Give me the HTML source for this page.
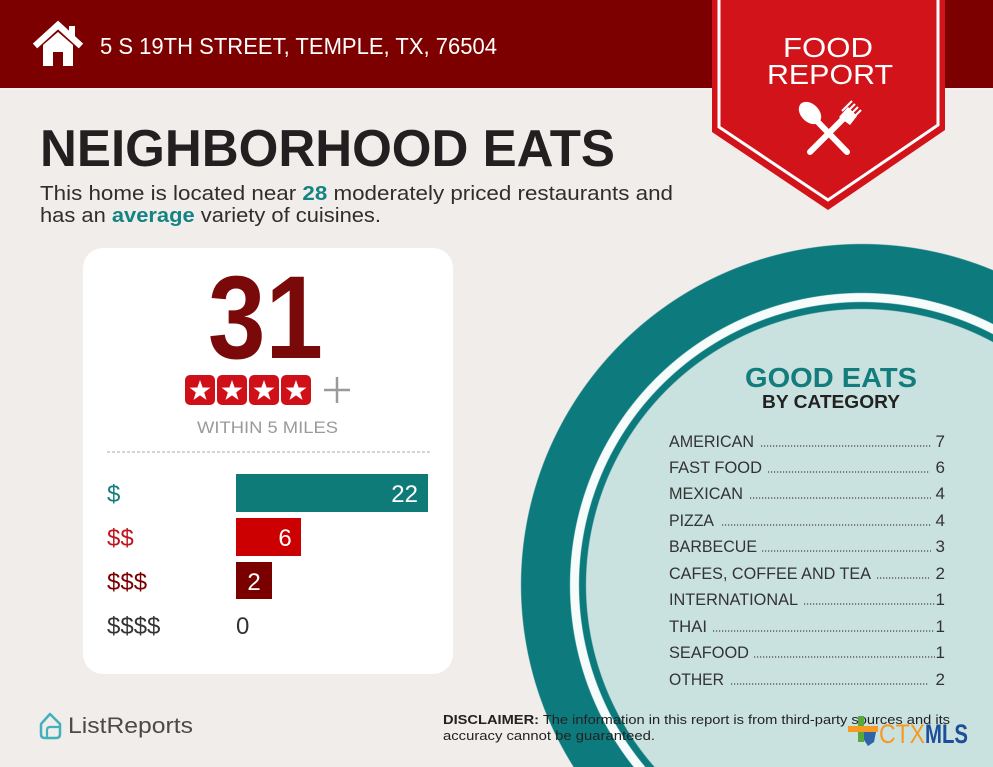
<!DOCTYPE html>
<html><head><meta charset="utf-8"><style>
html,body{margin:0;padding:0;width:993px;height:767px;overflow:hidden;}
body{background-color:#f1edea;background-image:radial-gradient(circle 342px at 862px 585px,#c9e1df 0,#c9e1df 275.5px,#0d7b7d 276.5px,#0d7b7d 282.5px,#f6fcfc 283.5px,#f6fcfc 291.5px,#0d7b7d 292.5px,#0d7b7d 340.5px,rgba(241,237,234,0) 341.5px);background-repeat:no-repeat;}
svg{display:block;overflow:hidden;}
text{font-family:"Liberation Sans",sans-serif;}
</style></head><body>
<svg width="993" height="767" viewBox="0 0 993 767" xmlns="http://www.w3.org/2000/svg" font-family="Liberation Sans, sans-serif">
<!-- header -->
<rect x="0" y="0" width="993" height="88" fill="#7d0000"/>
<rect x="0" y="88" width="993" height="2" fill="#f8f1ef"/>
<!-- house icon -->
<path d="M35 46 L58 25 L81 46" fill="none" stroke="#fff" stroke-width="6.5" stroke-linejoin="miter"/>
<rect x="69" y="26" width="6" height="12" fill="#fff"/>
<path d="M43 45 L58 32 L73 45 L73 66 L63 66 L63 52 L53 52 L53 66 L43 66 Z" fill="#fff"/>
<text x="100" y="54" font-size="23" fill="#fff" textLength="397" lengthAdjust="spacingAndGlyphs">5 S 19TH STREET, TEMPLE, TX, 76504</text>

<!-- banner -->
<polygon points="712,0 945,0 945,130 828,210 712,132" fill="#d2131a"/>
<polyline points="719,0 719,127 828,200 938,125 938,0" fill="none" stroke="#fff" stroke-width="3"/>
<text x="783" y="57" font-size="28" fill="#fff" textLength="90" lengthAdjust="spacingAndGlyphs">FOOD</text>
<text x="767" y="84" font-size="28" fill="#fff" textLength="126" lengthAdjust="spacingAndGlyphs">REPORT</text>
<g fill="#fff">
<ellipse cx="810" cy="113" rx="9" ry="13" transform="rotate(-45 810 113)"/>
<line x1="813" y1="117" x2="847" y2="152" stroke="#fff" stroke-width="6" stroke-linecap="round"/>
<line x1="846" y1="116" x2="810" y2="152" stroke="#fff" stroke-width="6" stroke-linecap="round"/>
<path d="M839 117 L848 107 L857 116 L850 125 Z"/>
<line x1="842" y1="111" x2="852" y2="101" stroke="#fff" stroke-width="2"/>
<line x1="845" y1="114" x2="855" y2="104" stroke="#fff" stroke-width="2"/>
<line x1="848" y1="117" x2="858" y2="107" stroke="#fff" stroke-width="2"/>
<line x1="851" y1="120" x2="861" y2="110" stroke="#fff" stroke-width="2"/>
</g>

<!-- title -->
<text x="40" y="166" font-size="52" font-weight="bold" fill="#231f20" textLength="575" lengthAdjust="spacingAndGlyphs">NEIGHBORHOOD EATS</text>
<text x="40" y="200" font-size="20" fill="#2e2e2e" textLength="633" lengthAdjust="spacingAndGlyphs">This home is located near <tspan font-weight="bold" fill="#138483">28</tspan> moderately priced restaurants and</text>
<text x="40" y="222" font-size="20" fill="#2e2e2e" textLength="341" lengthAdjust="spacingAndGlyphs">has an <tspan font-weight="bold" fill="#138483">average</tspan> variety of cuisines.</text>

<!-- card -->
<rect x="83" y="248" width="370" height="426" rx="20" ry="20" fill="#fff"/>
<text x="208" y="358" font-size="118" font-weight="bold" fill="#7a0a0a" textLength="115" lengthAdjust="spacingAndGlyphs">31</text>
<g>
<rect x="185" y="375" width="30" height="30" rx="5" fill="#cf1018"/>
<rect x="217" y="375" width="30" height="30" rx="5" fill="#cf1018"/>
<rect x="249" y="375" width="30" height="30" rx="5" fill="#cf1018"/>
<rect x="281" y="375" width="30" height="30" rx="5" fill="#cf1018"/>
<polygon transform="translate(200 391)" fill="#fff" points="0,-11 2.59,-3.56 10.46,-3.4 4.18,1.36 6.47,8.9 0,4.4 -6.47,8.9 -4.18,1.36 -10.46,-3.4 -2.59,-3.56"/>
<polygon transform="translate(232 391)" fill="#fff" points="0,-11 2.59,-3.56 10.46,-3.4 4.18,1.36 6.47,8.9 0,4.4 -6.47,8.9 -4.18,1.36 -10.46,-3.4 -2.59,-3.56"/>
<polygon transform="translate(264 391)" fill="#fff" points="0,-11 2.59,-3.56 10.46,-3.4 4.18,1.36 6.47,8.9 0,4.4 -6.47,8.9 -4.18,1.36 -10.46,-3.4 -2.59,-3.56"/>
<polygon transform="translate(296 391)" fill="#fff" points="0,-11 2.59,-3.56 10.46,-3.4 4.18,1.36 6.47,8.9 0,4.4 -6.47,8.9 -4.18,1.36 -10.46,-3.4 -2.59,-3.56"/>
<line x1="324" y1="390" x2="350" y2="390" stroke="#9a9a9a" stroke-width="2.5"/>
<line x1="337" y1="377" x2="337" y2="403" stroke="#9a9a9a" stroke-width="2.5"/>
</g>
<text x="197" y="433" font-size="17" fill="#9a9a9a" textLength="141" lengthAdjust="spacingAndGlyphs">WITHIN 5 MILES</text>
<line x1="107" y1="452" x2="430" y2="452" stroke="#a8a8a8" stroke-width="1" stroke-dasharray="3 2"/>

<rect x="236" y="474" width="192" height="38" fill="#0e7b79"/>
<rect x="236" y="518" width="65" height="38" fill="#cc0000"/>
<rect x="236" y="562" width="36" height="37" fill="#7a0000"/>
<text x="418" y="502" font-size="24" fill="#fff" text-anchor="end">22</text>
<text x="285" y="546" font-size="24" fill="#fff" text-anchor="middle">6</text>
<text x="254" y="590" font-size="24" fill="#fff" text-anchor="middle">2</text>
<text x="236" y="634" font-size="24" fill="#333">0</text>
<text x="107" y="502" font-size="24" fill="#137c7c">$</text>
<text x="107" y="546" font-size="24" fill="#c0141c">$$</text>
<text x="107" y="590" font-size="24" fill="#7a0000">$$$</text>
<text x="107" y="634" font-size="24" fill="#333">$$$$</text>

<!-- good eats -->
<text x="745" y="387" font-size="28" font-weight="bold" fill="#137c7c" textLength="172" lengthAdjust="spacingAndGlyphs">GOOD EATS</text>
<text x="762" y="408" font-size="18" font-weight="bold" fill="#222" textLength="138" lengthAdjust="spacingAndGlyphs">BY CATEGORY</text>
<g font-size="17" fill="#333">
<text x="669" y="447" textLength="85" lengthAdjust="spacingAndGlyphs">AMERICAN</text>
<text x="945" y="447" text-anchor="end">7</text>
<text x="669" y="473" textLength="93" lengthAdjust="spacingAndGlyphs">FAST FOOD</text>
<text x="945" y="473" text-anchor="end">6</text>
<text x="669" y="499" textLength="74" lengthAdjust="spacingAndGlyphs">MEXICAN</text>
<text x="945" y="499" text-anchor="end">4</text>
<text x="669" y="526" textLength="45" lengthAdjust="spacingAndGlyphs">PIZZA</text>
<text x="945" y="526" text-anchor="end">4</text>
<text x="669" y="552" textLength="88" lengthAdjust="spacingAndGlyphs">BARBECUE</text>
<text x="945" y="552" text-anchor="end">3</text>
<text x="669" y="579" textLength="202" lengthAdjust="spacingAndGlyphs">CAFES, COFFEE AND TEA</text>
<text x="945" y="579" text-anchor="end">2</text>
<text x="669" y="605" textLength="129" lengthAdjust="spacingAndGlyphs">INTERNATIONAL</text>
<text x="945" y="605" text-anchor="end">1</text>
<text x="669" y="632" textLength="38" lengthAdjust="spacingAndGlyphs">THAI</text>
<text x="945" y="632" text-anchor="end">1</text>
<text x="669" y="658" textLength="80" lengthAdjust="spacingAndGlyphs">SEAFOOD</text>
<text x="945" y="658" text-anchor="end">1</text>
<text x="669" y="685" textLength="55" lengthAdjust="spacingAndGlyphs">OTHER</text>
<text x="945" y="685" text-anchor="end">2</text>
</g>
<g stroke="#444" stroke-width="1.3" stroke-dasharray="1.2 1.8">
<line x1="761" y1="446" x2="932" y2="446"/>
<line x1="768" y1="472" x2="929" y2="472"/>
<line x1="750" y1="498" x2="931" y2="498"/>
<line x1="722" y1="525" x2="931" y2="525"/>
<line x1="762" y1="551" x2="931" y2="551"/>
<line x1="877" y1="578" x2="929" y2="578"/>
<line x1="804" y1="604" x2="935" y2="604"/>
<line x1="713" y1="631" x2="935" y2="631"/>
<line x1="754" y1="657" x2="935" y2="657"/>
<line x1="731" y1="684" x2="929" y2="684"/>
</g>

<!-- footer -->
<path d="M41 724 L50 714 L60 724 L60 734 Q60 738 56 738 L45 738 Q41 738 41 734 Z" fill="none" stroke="#3fb2bb" stroke-width="2.5" stroke-linejoin="round"/>
<path d="M47 738 L47 730 Q47 727 50 727 L60 727" fill="none" stroke="#3fb2bb" stroke-width="2.2"/>
<text x="68" y="733" font-size="22" fill="#4a4a4a" textLength="125" lengthAdjust="spacingAndGlyphs">ListReports</text>

<text x="443" y="724" font-size="13" fill="#222" textLength="507" lengthAdjust="spacingAndGlyphs"><tspan font-weight="bold">DISCLAIMER:</tspan> The information in this report is from third-party sources and its</text>
<text x="443" y="740" font-size="13" fill="#222" textLength="212" lengthAdjust="spacingAndGlyphs">accuracy cannot be guaranteed.</text>

<!-- CTXMLS logo -->
<rect x="858" y="716" width="6" height="26" fill="#5aa83c"/>
<rect x="848" y="726" width="30" height="6" fill="#f59a23"/>
<path d="M864 732 L876 732 L874 742 L868 746 L864 740 Z" fill="#2f63a8"/>
<text x="879" y="743" font-size="27" fill="#f59a23" textLength="46" lengthAdjust="spacingAndGlyphs">CTX</text>
<text x="925" y="743" font-size="27" font-weight="bold" fill="#1d4e9a" textLength="43" lengthAdjust="spacingAndGlyphs">MLS</text>
</svg>
</body></html>
